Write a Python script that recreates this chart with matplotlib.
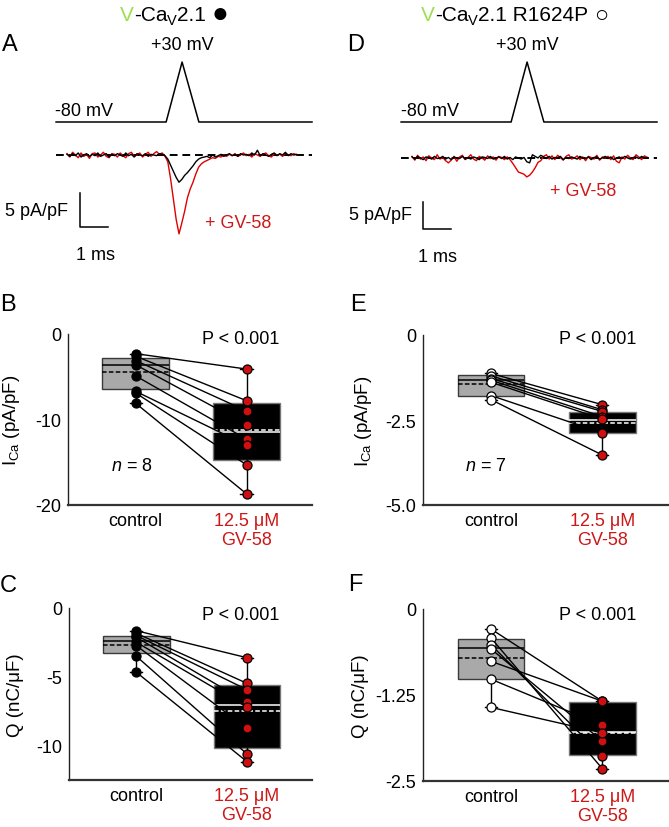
import matplotlib
matplotlib.use('Agg')
import matplotlib.pyplot as plt
import numpy as np

plt.rcParams['font.family'] = ['Liberation Sans', 'DejaVu Sans']
plt.rcParams['mathtext.fontset'] = 'custom'
plt.rcParams['mathtext.rm'] = 'Liberation Sans'
plt.rcParams['mathtext.it'] = 'Liberation Sans:italic'

# ---------------- data ----------------
dt_ms = 0.1
# voltage protocol (ms, mV)
v_times = [-0.39, 3.54, 4.11, 4.71, 8.75]
v_vals = [-80, -80, 30, -80, -80]

# currents (pA/pF), sampled every 0.1 ms
blk_A = [0.1, -0.2, 0.2, -0.1, 0.3, -0.3, 0.0, 0.2, -0.2, 0.1,
         -0.1, 0.3, -0.2, 0.0, 0.2, -0.3, 0.1, -0.1, 0.2, 0.0,
         -0.2, 0.3, -0.1, 0.1, -0.3, 0.2, 0.0, -0.1, 0.2, -0.2,
         0.1, 0.0, -0.1, 0.2, 0.1, -0.1, -0.6, -1.5, -2.4, -3.3,
         -4.0, -3.6, -3.0, -2.6, -2.1, -1.6, -1.0, -0.6, -0.4, -0.3,
         -0.2, -0.4, 0.0, -0.3, -0.1, 0.1, -0.2, 0.0, 0.2, -0.1,
         0.1, -0.2, 0.2, 0.0, 0.1, -0.1, 0.3, 0.0, 0.7, -0.1,
         0.2, 0.0, -0.2, 0.1, 0.3, -0.1, 0.2, 0.0, 0.4, -0.1,
         0.2, 0.0, 0.1]
red_A = [0.2, -0.3, 0.4, 0.0, -0.4, 0.3, -0.2, 0.1, -0.5, 0.2,
         0.3, -0.3, 0.0, 0.4, -0.2, -0.4, 0.2, 0.1, -0.3, 0.3,
         -0.1, -0.4, 0.2, 0.4, -0.2, 0.0, 0.3, -0.3, 0.1, 0.4,
         -0.2, 0.2, 0.5, 0.1, 0.3, -0.2, -1.0, -3.5, -6.5, -9.5,
         -11.6, -10.0, -8.3, -6.3, -5.0, -4.0, -2.8, -1.8, -1.3, -1.0,
         -0.8, -0.6, -0.4, -0.5, -0.2, -0.3, 0.0, -0.2, 0.1, -0.1,
         0.2, -0.2, 0.0, 0.3, -0.1, 0.1, -0.3, 0.2, 0.0, -0.2,
         0.1, 0.3, -0.1, -0.3, 0.2, 0.0, 0.1, -0.2, 0.3, 0.0,
         -0.1, 0.2, 0.0]
blk_D = [0.2, -0.2, 0.3, 0.0, -0.3, 0.2, 0.1, -0.2, 0.3, -0.1,
         0.0, 0.3, -0.2, 0.1, -0.3, 0.2, 0.0, -0.1, 0.3, -0.2,
         0.1, -0.2, 0.2, 0.0, -0.3, 0.2, 0.1, -0.1, 0.3, -0.2,
         0.0, 0.2, -0.1, 0.3, -0.2, 0.1, -0.3, 0.2, 0.0, -0.2,
         0.1, -0.7, -0.9, 0.6, 0.3, 0.0, 0.5, 0.2, -0.1, 0.3,
         -0.2, 0.1, 0.0, 0.3, -0.3, 0.1, -0.1, 0.2, 0.0, -0.2,
         0.3, 0.0, -0.1, 0.2, -0.3, 0.1, 0.2, -0.2, 0.0, 0.3,
         -0.1, 0.2, -0.3, 0.0, 0.2, -0.1, 0.3, 0.0, -0.2, 0.1,
         0.2, -0.1, 0.3, 0.0, 0.1]
red_D = [0.3, -0.4, 0.5, -0.2, 0.2, -0.5, 0.4, 0.0, -0.3, 0.6,
         -0.2, 0.1, -0.5, -0.9, -0.4, 0.3, -0.6, 0.2, 0.5, -0.3,
         0.1, 0.6, -0.2, -0.5, 0.3, 0.0, -0.4, 0.4, -0.1, 0.2,
         -0.4, 0.3, 0.1, -0.3, 0.2, -0.3, -1.0, -1.8, -2.6, -2.8,
         -3.0, -3.5, -3.2, -2.6, -1.8, -0.8, -0.5, 0.3, 0.6, -0.2,
         0.4, -0.3, 0.5, 0.1, -0.4, 0.3, 0.6, -0.2, 0.0, 0.4,
         -0.3, 0.2, -0.5, 0.3, 0.1, -0.2, 0.5, -0.4, 0.2, 0.0,
         0.3, -0.3, 0.4, -0.6, -0.9, 0.2, -0.2, 0.5, 0.0, -0.3,
         0.6, 0.2, -0.3, 0.4, 0.1]

# paired cells: control -> 12.5 uM GV-58
B_ctrl = [-2.3, -2.6, -3.1, -3.6, -4.9, -6.7, -6.9, -8.1]
B_gv = [-4.1, -7.8, -9.0, -10.6, -12.3, -13.0, -15.3, -18.7]
C_ctrl = [-1.65, -1.84, -2.0, -2.13, -2.49, -2.74, -3.51, -4.67]
C_gv = [-3.61, -5.47, -5.93, -6.85, -7.2, -8.72, -10.6, -11.16]
E_ctrl = [-1.13, -1.2, -1.28, -1.33, -1.39, -1.78, -1.9]
E_gv = [-2.05, -2.2, -2.25, -2.4, -2.47, -2.88, -3.53]
F_ctrl = [-0.29, -0.42, -0.52, -0.58, -0.76, -1.02, -1.43]
F_gv = [-1.34, -2.32, -2.13, -1.92, -1.34, -1.69, -1.80]

# box statistics: [lower quartile, median, upper quartile, mean]
B_ctrl_box = [-6.4, -3.6, -2.8, -4.4]
B_gv_box = [-14.7, -11.5, -8.1, -11.2]
C_ctrl_box = [-3.29, -2.42, -2.06, -2.69]
C_gv_box = [-10.17, -7.02, -5.59, -7.46]
E_ctrl_box = [-1.78, -1.32, -1.17, -1.44]
E_gv_box = [-2.89, -2.49, -2.25, -2.59]
F_ctrl_box = [-1.02, -0.57, -0.43, -0.71]
F_gv_box = [-2.12, -1.79, -1.35, -1.80]

groups = ['control', '12.5 μM\nGV-58']

# ---------------- figure ----------------
W, H = 669, 828
fig = plt.figure(figsize=(W / 100, H / 100), dpi=100)

RED = '#d01010'
TXT_RED = '#cc1818'
GREEN = '#9ee04c'


def px_axes(x0, x1, y0, y1):
    return fig.add_axes([x0 / W, 1 - y1 / H, (x1 - x0) / W, (y1 - y0) / H])


def map_lims(ax, box, xref, yref):
    x0, x1, y0, y1 = box
    px, xv, sx = xref
    py, yv, sy = yref
    ax.set_xlim(xv + (x0 - px) / sx, xv + (x1 - px) / sx)
    ax.set_ylim(yv - (y1 - py) / sy, yv - (y0 - py) / sy)


def ftext(x, y, s, **kw):
    kw.setdefault('va', 'center')
    kw.setdefault('fontsize', 13)
    return fig.text(x / W, 1 - y / H, s, **kw)


def trace_panel(box, t0px, zero_py, px_per_unit, blk, red, sb_t, sb_v0):
    axv = px_axes(*box)
    map_lims(axv, box, (t0px, 0, 28), (123, -80, 0.545))
    axv.plot(v_times, v_vals, color='black', lw=1.1)
    axv.axis('off')
    axi = px_axes(*box)
    map_lims(axi, box, (t0px, 0, 28), (zero_py, 0, px_per_unit))
    axi.axis('off')
    t = np.arange(len(blk)) * dt_ms
    axi.plot([v_times[0], v_times[-1]], [0, 0], color='black', lw=1.4,
             ls=(0, (4, 2.5)), zorder=1)
    axi.plot(t, red, color='#e00000', lw=1.0, zorder=2)
    axi.plot(t, blk, color='black', lw=1.0, zorder=3)
    axi.plot([sb_t, sb_t, sb_t + 1], [sb_v0 + 5, sb_v0, sb_v0],
             color='black', lw=1.1)


trace_panel((40, 335, 50, 270), 67, 156, 6.8, blk_A, red_A, 0.46, -10.6)
trace_panel((395, 665, 50, 270), 412, 159, 5.4, blk_D, red_D, 0.39, -13.15)

# trace annotations
ftext(182, 45, '+30 mV', ha='center')
ftext(527, 45, '+30 mV', ha='center')
ftext(55, 112, '-80 mV', ha='left')
ftext(401, 112, '-80 mV', ha='left')
ftext(68, 212, '5 pA/pF', ha='right')
ftext(412, 215, '5 pA/pF', ha='right')
ftext(95, 255, '1 ms', ha='center')
ftext(438, 257, '1 ms', ha='center')
ftext(205, 224, '+ GV-58', ha='left', color=TXT_RED)
ftext(550, 191, '+ GV-58', ha='left', color=TXT_RED)

# panel letters
for lab, x, y in [('A', 2, 45), ('D', 347, 45), ('B', 0, 305), ('E', 350, 305),
                  ('C', 0, 586), ('F', 348, 585)]:
    ftext(x, y, lab, ha='left', fontsize=17)


def box_panel(box, ctrl, gv, cbox, gbox, ctrl_mfc, ylim, yticks, ytl, ylabel,
              ylab_x):
    ax = px_axes(*box)
    stats = []
    for vals, b in ((ctrl, cbox), (gv, gbox)):
        stats.append(dict(q1=b[0], med=b[1], q3=b[2], mean=b[3],
                          whislo=min(vals), whishi=max(vals), fliers=[]))
    bp = ax.bxp(stats, positions=[1, 2], widths=0.6, patch_artist=True,
                showmeans=True, meanline=True, showfliers=False,
                manage_ticks=False, capwidths=0.11,
                whiskerprops=dict(color='black', lw=1.0),
                capprops=dict(color='black', lw=1.0))
    faces = ['#a9a9a9', 'black']
    edges = ['#3a3a3a', '#777777']
    lcol = ['black', 'white']
    for i in range(2):
        bp['boxes'][i].set_facecolor(faces[i])
        bp['boxes'][i].set_edgecolor(edges[i])
        bp['boxes'][i].set_linewidth(1.0)
        bp['medians'][i].set_color(lcol[i])
        bp['medians'][i].set_linewidth(1.1)
        bp['means'][i].set_color(lcol[i])
        bp['means'][i].set_linewidth(1.1)
        bp['means'][i].set_linestyle((0, (3, 1.5)))
    for c, g in zip(ctrl, gv):
        ax.plot([1, 2], [c, g], color='black', lw=1.0, zorder=4)
    ax.plot([1] * len(ctrl), ctrl, 'o', ms=6.5, mfc=ctrl_mfc, mec='black',
            mew=0.9, zorder=5, clip_on=False)
    ax.plot([2] * len(gv), gv, 'o', ms=6.5, mfc=RED, mec='black',
            mew=0.9, zorder=5, clip_on=False)
    ax.set_xlim(0.39, 2.59)
    ax.set_ylim(*ylim)
    ax.set_yticks(yticks)
    ax.set_yticklabels(ytl)
    ax.set_xticks([1, 2])
    ax.set_xticklabels(groups, linespacing=1.15)
    ax.get_xticklabels()[1].set_color(TXT_RED)
    ax.tick_params(length=0, labelsize=13)
    ax.tick_params(axis='y', pad=5)
    ax.tick_params(axis='x', pad=5)
    for s in ('top', 'right'):
        ax.spines[s].set_visible(False)
    ax.spines['left'].set_linewidth(1.0)
    ax.spines['left'].set_color('#222222')
    ax.spines['bottom'].set_linewidth(1.6)
    ax.spines['bottom'].set_color('#333333')
    ax.set_ylabel(ylabel, fontsize=13.5)
    ax.yaxis.set_label_coords(ylab_x, 0.5)
    return ax


box_panel((68, 312, 335, 506), B_ctrl, B_gv, B_ctrl_box, B_gv_box, 'black',
          (-20, 0), [0, -10, -20], ['0', '-10', '-20'],
          r'$\mathregular{I_{Ca}}$ (pA/pF)', -0.19)
box_panel((69, 312, 609, 781), C_ctrl, C_gv, C_ctrl_box, C_gv_box, 'black',
          (-12.5, 0), [0, -5, -10], ['0', '-5', '-10'],
          'Q (nC/μF)', -0.185)
box_panel((423, 668, 336, 506), E_ctrl, E_gv, E_ctrl_box, E_gv_box, 'white',
          (-5, 0), [0, -2.5, -5], ['0', '-2.5', '-5.0'],
          r'$\mathregular{I_{Ca}}$ (pA/pF)', -0.2)
box_panel((423, 668, 610, 782), F_ctrl, F_gv, F_ctrl_box, F_gv_box, 'white',
          (-2.5, 0), [0, -1.25, -2.5], ['0', '-1.25', '-2.5'],
          'Q (nC/μF)', -0.22)

ftext(241, 340, 'P < 0.001', ha='center')
ftext(598, 340, 'P < 0.001', ha='center')
ftext(241, 616, 'P < 0.001', ha='center')
ftext(598, 616, 'P < 0.001', ha='center')
ftext(132, 467, r'$\mathit{n}$ = 8', ha='center')
ftext(486, 467, r'$\mathit{n}$ = 7', ha='center')

# titles, built from pieces
fig.canvas.draw()
renderer = fig.canvas.get_renderer()


def chain(x, y, parts):
    for s, col, size, dy in parts:
        t = ftext(x, y + dy, s, ha='left', va='baseline', color=col,
                  fontsize=size)
        x += t.get_window_extent(renderer=renderer).width


chain(120, 21, [('V', GREEN, 15, 0), ('-Ca', 'black', 15, 0),
                ('V', 'black', 10.5, 4), ('2.1 ', 'black', 15, 0),
                ('●', 'black', 20, 1)])
chain(421, 21, [('V', GREEN, 15, 0), ('-Ca', 'black', 15, 0),
                ('V', 'black', 10.5, 4), ('2.1 R1624P ', 'black', 15, 0),
                ('○', 'black', 17, 1)])

fig.savefig('out.png', dpi=100)
